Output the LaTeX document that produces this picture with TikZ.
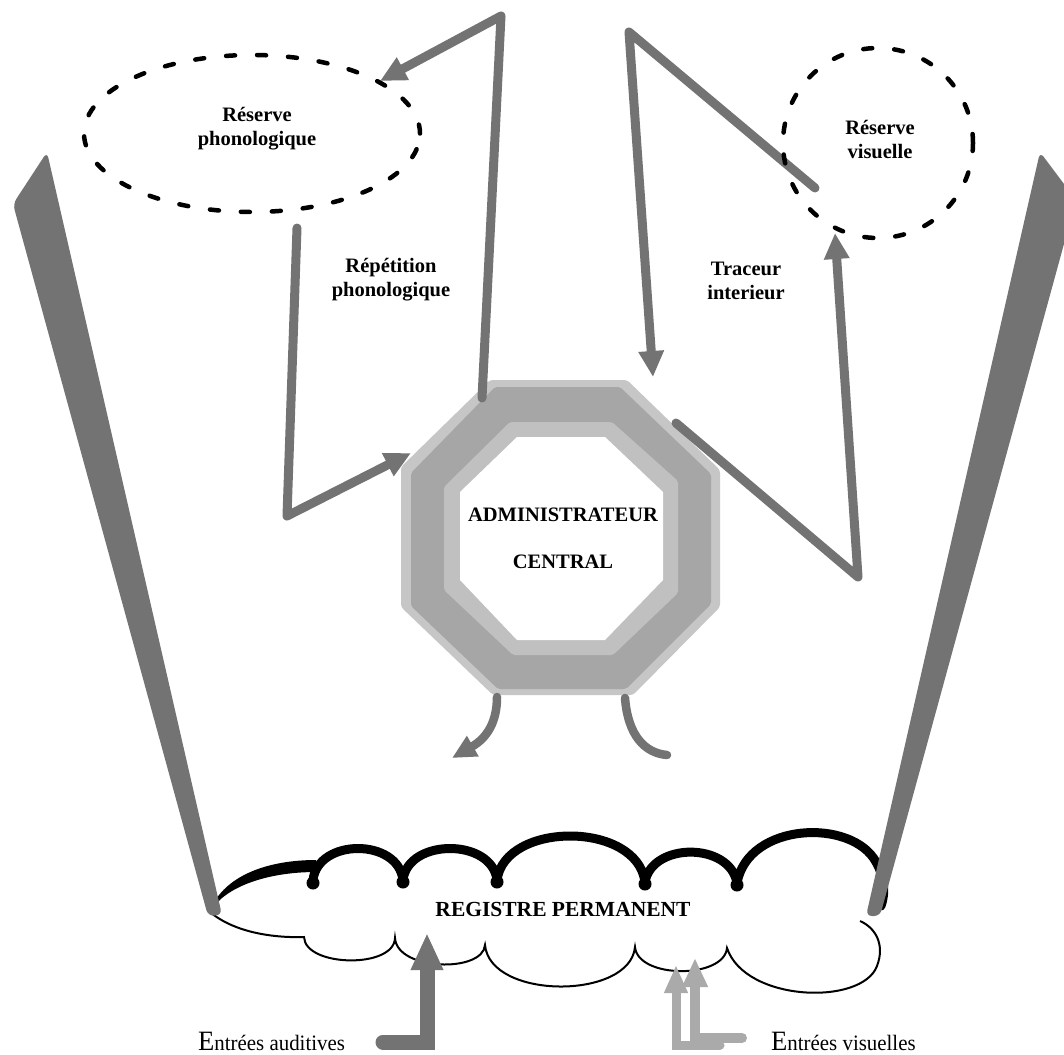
\documentclass[tikz,border=0pt]{standalone}
\usepackage{fontspec}
\setmainfont{Liberation Serif}
\usetikzlibrary{arrows.meta,shapes.geometric}
\definecolor{arrowgray}{HTML}{737373}
\definecolor{lightarrow}{HTML}{AAAAAA}
\definecolor{octlight}{HTML}{C6C6C6}
\definecolor{octdark}{HTML}{A6A6A6}
\definecolor{octinner}{HTML}{C0C0C0}
\begin{document}
\begin{tikzpicture}[x=1pt,y=-1pt,
  conn/.style={draw=arrowgray, line width=9pt, line cap=round, line join=round},
  bigtip/.style={-{Triangle[width=24pt,length=26pt]}},
  smalltip/.style={-{Triangle[width=22pt,length=24pt]}},
  store/.style={draw=black, line width=4.5pt, dash pattern=on 9pt off 22pt, line cap=round, inner sep=0pt},
  lbl/.style={font=\fontsize{20.5}{24}\selectfont\bfseries, align=center, inner sep=0pt},
  wedge/.style={fill=arrowgray, rounded corners=6pt},
  cloudtop/.style={draw=black, line width=9pt, line cap=round, line join=round},
  cloudbot/.style={draw=black, line width=2pt, line join=miter},
  entry/.style={anchor=base west, inner sep=0pt, xscale=0.95},
]
\useasboundingbox[fill=white] (0,0) rectangle (1064,1054);

% ---------- permanent store (cloud) ----------
\draw[cloudbot] (210,912) .. controls (235,933) and (275,938) .. (304,937)
  .. controls (305,967) and (394,969) .. (395,938)
  .. controls (397,971) and (483,973) .. (485,945)
  .. controls (490,1000) and (630,1000) .. (635,947)
  .. controls (638,979) and (724,979) .. (727,948)
  .. controls (745,1002) and (862,1006) .. (877,966)
  .. controls (885,945) and (876,928) .. (860,921);
\fill[black] (212,906) .. controls (228,874) and (270,860) .. (316,860)
  -- (316,872) .. controls (272,872) and (232,884) .. (214,906) -- cycle;
\draw[cloudtop] (313,880) .. controls (318,838) and (398,838) .. (403,880)
  .. controls (408,838) and (492,838) .. (497,880)
  .. controls (505,821) and (637,821) .. (645,882)
  .. controls (652,842) and (730,842) .. (737,883)
  .. controls (748,822) and (852,818) .. (876,862)
  .. controls (884,876) and (886,892) .. (881,906);
\foreach \cx/\cy in {313/883,403/882,497/882,645/884,737/885}
  \fill[black] (\cx,\cy) circle[radius=6.5pt];
\node[font=\fontsize{21.5}{24}\selectfont\bfseries, inner sep=0pt] (registre) at (563,909) {REGISTRE PERMANENT};

% ---------- side wedges ----------
\fill[wedge] (13,204) -- (47,152) -- (222,915) -- (208,916) -- cycle;
\fill[wedge] (1040,152) -- (1076,200) -- (880,916) -- (866,916) -- cycle;

% ---------- central executive ----------
\fill[octlight, rounded corners=3pt] (490,380) -- (627,380) -- (720,470) -- (720,607) -- (633,695) -- (493,695) -- (401,607) -- (401,467) -- cycle;
\fill[octdark, rounded corners=2pt] (495,387) -- (620,387) -- (711,474) -- (711,604) -- (626,689) -- (498,689) -- (411,606) -- (411,473) -- cycle;
\fill[octinner, rounded corners=2pt] (510,422) -- (612,422) -- (678,481) -- (678,593) -- (613,655) -- (513,655) -- (444,590) -- (444,487) -- cycle;
\fill[white] (517,437) -- (605,437) -- (663,492) -- (663,580) -- (605,640) -- (517,640) -- (460,580) -- (460,492) -- cycle;
\node[font=\fontsize{20.5}{47}\selectfont\bfseries, align=center, inner sep=0pt] (admin) at (563,538) {ADMINISTRATEUR\\CENTRAL};

% ---------- named points ----------
\coordinate (lpA) at (482,398);
\coordinate (lpB) at (501,16);
\coordinate (lpC) at (380,81);
\coordinate (lrA) at (297,228);
\coordinate (lrB) at (287,516);
\coordinate (lrC) at (411,453);
\coordinate (rpA) at (629,32);
\coordinate (rpB) at (653,377);
\coordinate (rpC) at (815,188);
\coordinate (rrA) at (676,423);
\coordinate (rrB) at (858,577);
\coordinate (rrC) at (835,233);
\coordinate (boL) at (497,697);
\coordinate (boLend) at (452,758);
\coordinate (boR) at (625,698);
\coordinate (boRend) at (667,755);

% ---------- loops ----------
\draw[conn, bigtip] (lpA) -- (lpB) -- (lpC);
\draw[conn, bigtip] (lrA) -- (lrB) -- (lrC);
\draw[conn, bigtip] (rpC) -- (rpA) -- (rpB);
\draw[conn, bigtip] (rrA) -- (rrB) -- (rrC);
\draw[conn, line width=8.5pt, smalltip] (boL) .. controls (497,722) and (487,738) .. (boLend);
\draw[conn, line width=8.5pt] (boR) .. controls (628,736) and (645,753) .. (boRend);

% ---------- stores ----------
\node[store, ellipse, minimum width=336pt, minimum height=157pt] (phonostore) at (252,133.5) {};
\node[store, circle, minimum size=190pt] (visstore) at (878,143) {};
\node[lbl] (phonolabel) at (257,129) {Réserve\\phonologique};
\node[lbl] (vislabel) at (880,140) {Réserve\\visuelle};
\node[lbl] (replabel) at (391,280) {Répétition\\phonologique};
\node[lbl] (tracelabel) at (746,281) {Traceur\\interieur};

% ---------- inputs ----------
\coordinate (audA) at (383,1042);
\coordinate (audB) at (427,1042);
\coordinate (audC) at (427,933);
\draw[draw=arrowgray, line width=15pt, line cap=round, line join=miter, -{Triangle[width=30pt,length=37pt]}] (audA) -- (audB) -- (audC);
\coordinate (visA1) at (720,1045);
\coordinate (visB1) at (676,1045);
\coordinate (visC1) at (676,965);
\coordinate (visA2) at (742,1038);
\coordinate (visB2) at (695,1038);
\coordinate (visC2) at (695,958);
\draw[draw=lightarrow, line width=9pt, line cap=round, line join=miter, -{Triangle[width=22pt,length=28pt]}] (visA1) -- (visB1) -- (visC1);
\draw[draw=lightarrow, line width=10pt, line cap=round, line join=miter, -{Triangle[width=24pt,length=29pt]}] (visA2) -- (visB2) -- (visC2);
\node[entry] (audin) at (198,1050) {\fontsize{28}{28}\selectfont E\fontsize{22}{22}\selectfont ntrées auditives};
\node[entry] (visin) at (771,1050) {\fontsize{28}{28}\selectfont E\fontsize{22}{22}\selectfont ntrées visuelles};
\end{tikzpicture}
\end{document}
